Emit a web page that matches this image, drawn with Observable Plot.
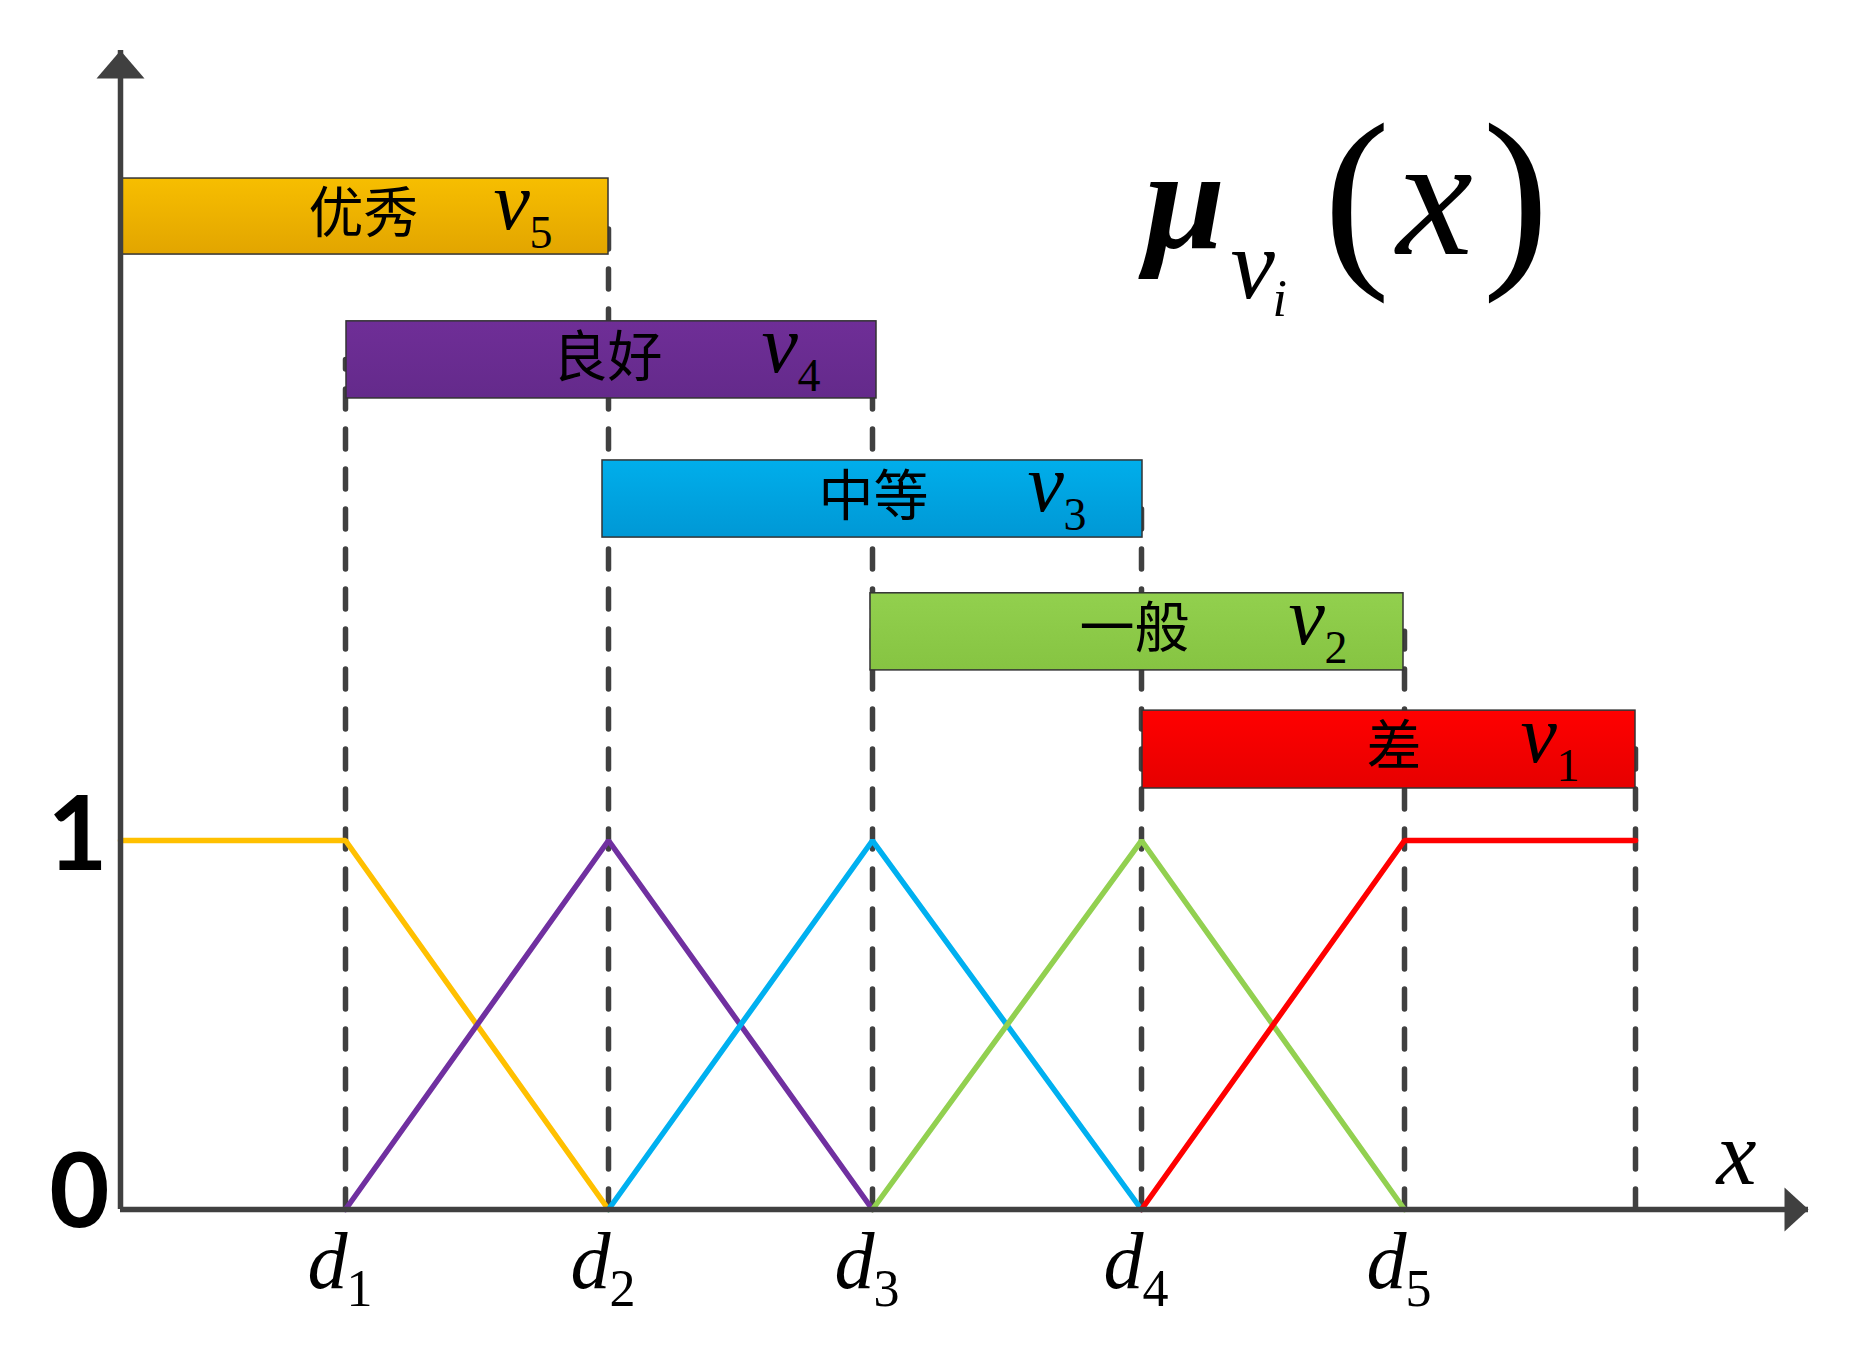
<!DOCTYPE html>
<html><head><meta charset="utf-8">
<script src="https://cdn.jsdelivr.net/npm/d3@7"></script>
<script src="https://cdn.jsdelivr.net/npm/@observablehq/plot@0.6"></script>
<style>html,body{margin:0;padding:0;background:#fff;} #chart svg{display:block;}</style>
</head><body><div id="chart"></div>
<script>
// ---- data ----
const grades = ["优秀", "良好", "中等", "一般", "差"];
const gradeSubs = ["5", "4", "3", "2", "1"];
const barStart = [0, 2.26, 4.82, 7.50, 10.22];
const barEnd = [4.88, 7.56, 10.22, 12.83, 15.15];
const barTop = [2.794, 2.407, 2.030, 1.670, 1.352];
const barBottom = [2.588, 2.198, 1.821, 1.461, 1.141];

const dSubs = ["1", "2", "3", "4", "5"];
const dPos = [2.25, 4.88, 7.52, 10.21, 12.84];
const xLast = 15.15;
const xMax = 16.88;
const yMax = 3.141;
const yTicks = [0, 1];

const v5x = [0, 2.25, 4.88], v5y = [1, 1, 0];
const v4x = [2.25, 4.88, 7.52], v4y = [0, 1, 0];
const v3x = [4.88, 7.52, 10.21], v3y = [0, 1, 0];
const v2x = [7.52, 10.21, 12.84], v2y = [0, 1, 0];
const v1x = [10.21, 12.84, 15.15], v1y = [0, 1, 1];

const dashX = [2.25, 4.88, 7.52, 10.21, 12.84, 15.15];
const dashBar = [1, 0, 1, 2, 3, 4];

// ---- styles ----
const lineColors = ["#FFC000", "#7030A0", "#00B0F0", "#92D050", "#FF0000"];
const gradTop = ["#F7BE00", "#6F2E97", "#00AEEB", "#92D04E", "#FF0000"];
const gradBottom = ["#E2A500", "#642A8B", "#0098D5", "#86C442", "#E60000"];
const axisColor = "#404040";

// ---- tables ----
const bars = grades.map((g, i) => ({
  i, g, sub: gradeSubs[i], x1: barStart[i], x2: barEnd[i], y1: barBottom[i], y2: barTop[i],
  mid: (barTop[i] + barBottom[i]) / 2, grad: `url(#barGrad${i})`
}));
const series = [[v5x, v5y], [v4x, v4y], [v3x, v3y], [v2x, v2y], [v1x, v1y]];
const mf = series.flatMap(([xs, ys], k) => xs.map((x, j) => ({x, y: ys[j], k, color: lineColors[k]})));
const dashes = dashX.map((x, i) => ({x, top: bars[dashBar[i]].mid}));
const dTicks = dPos.map((x, i) => ({x, sub: dSubs[i]}));

const arrowUp = {draw(ctx) { ctx.moveTo(0, 0); ctx.lineTo(24, 28); ctx.lineTo(-24, 28); ctx.closePath(); }};
const arrowRight = {draw(ctx) { ctx.moveTo(0, 0); ctx.lineTo(-24, 22); ctx.lineTo(-24, -22); ctx.closePath(); }};

const serif = "'Liberation Serif', 'Times New Roman', serif";
const cjk = "'Noto Sans CJK SC', sans-serif";

const chart = Plot.plot({
  width: 1863, height: 1351,
  marginLeft: 120, marginRight: 55, marginTop: 50, marginBottom: 142,
  x: {domain: [0, xMax], axis: null},
  y: {domain: [0, yMax], axis: null},
  style: {background: "white", overflow: "visible"},
  marks: [
    // dashed guides
    Plot.ruleX(dashes, {x: "x", y1: 0, y2: "top", stroke: axisColor, strokeWidth: 5.5,
      strokeDasharray: "20,20", strokeLinecap: "round"}),
    // membership functions
    Plot.line(mf, {x: "x", y: "y", z: "k", stroke: "color", strokeWidth: 5.5, strokeLinejoin: "miter"}),
    // grade bars
    Plot.rect(bars, {x1: "x1", x2: "x2", y1: "y1", y2: "y2", fill: "grad", stroke: "#333", strokeWidth: 1.5}),
    Plot.text(bars.filter(b => b.i === 0), {x: "x2", y: "mid", text: "g", textAnchor: "end", dx: -190, dy: -2,
      fontSize: 55, fontFamily: cjk, fill: "#000"}),
    Plot.text(bars.filter(b => b.i > 0), {x: "x2", y: "mid", text: "g", textAnchor: "end", dx: -214, dy: -2,
      fontSize: 55, fontFamily: cjk, fill: "#000"}),
    Plot.text(bars, {x: "x2", y: "mid", text: () => "v", textAnchor: "start", lineAnchor: "bottom",
      dx: -115, dy: 12, fontSize: 82, fontStyle: "italic", fontFamily: serif, fill: "#000"}),
    Plot.text(bars, {x: "x2", y: "mid", text: "sub", textAnchor: "start", lineAnchor: "bottom",
      dx: -79, dy: 31, fontSize: 46, fontFamily: serif, fill: "#000"}),
    // axes
    Plot.ruleY([0], {x1: 0, x2: xMax, stroke: axisColor, strokeWidth: 5.5}),
    Plot.ruleX([0], {y1: 0, y2: yMax, stroke: axisColor, strokeWidth: 5.5}),
    Plot.dot([0], {x: 0, y: yMax, symbol: arrowUp, fill: axisColor, stroke: "none", r: 10}),
    Plot.dot([0], {x: xMax, y: 0, symbol: arrowRight, fill: axisColor, stroke: "none", r: 10}),
    // y tick labels
    Plot.text(yTicks.filter(d => d === 1), {x: 0, y: d => d, text: d => String(d), textAnchor: "end",
      dx: -13, dy: -4, fontSize: 104, fontWeight: "bold", fontFamily: "Lato, sans-serif", fill: "#000"}),
    Plot.text(yTicks.filter(d => d === 0), {x: 0, y: d => d, text: d => String(d), textAnchor: "end",
      dx: -11, dy: -16, fontSize: 104, fontWeight: "bold", fontFamily: "Lato, sans-serif", fill: "#000"}),
    // x tick labels d_i
    Plot.text(dTicks, {x: "x", y: 0, text: () => "d", textAnchor: "end", lineAnchor: "bottom",
      dx: 2, dy: 78, fontSize: 80, fontStyle: "italic", fontFamily: serif, fill: "#000"}),
    Plot.text(dTicks, {x: "x", y: 0, text: "sub", textAnchor: "start", lineAnchor: "bottom",
      dx: 1, dy: 96, fontSize: 52, fontFamily: serif, fill: "#000"}),
    // axis name x
    Plot.text(["x"], {frameAnchor: "bottom-right", text: d => d, textAnchor: "end", lineAnchor: "bottom",
      dx: -52, dy: -26, fontSize: 90, fontStyle: "italic", fontFamily: serif, fill: "#000"}),
    // formula μ_{v_i}(x)
    Plot.text(["μ"], {frameAnchor: "top-left", text: d => d, textAnchor: "start", lineAnchor: "bottom",
      dx: 1024, dy: 197, fontSize: 145, fontStyle: "italic", fontWeight: "bold", fontFamily: serif, fill: "#000"}),
    Plot.text(["v"], {frameAnchor: "top-left", text: d => d, textAnchor: "start", lineAnchor: "bottom",
      dx: 1110, dy: 247, fontSize: 100, fontStyle: "italic", fontFamily: serif, fill: "#000"}),
    Plot.text(["i"], {frameAnchor: "top-left", text: d => d, textAnchor: "start", lineAnchor: "bottom",
      dx: 1152, dy: 265, fontSize: 52, fontStyle: "italic", fontFamily: serif, fill: "#000"}),
    Plot.text(["("], {frameAnchor: "top-left", text: d => d, textAnchor: "start", lineAnchor: "bottom",
      dx: 1203, dy: 210, fontSize: 200, fontFamily: serif, fill: "#000"}),
    Plot.text(["x"], {frameAnchor: "top-left", text: d => d, textAnchor: "start", lineAnchor: "bottom",
      dx: 1276, dy: 203, fontSize: 172, fontStyle: "italic", fontFamily: serif, fill: "#000"}),
    Plot.text([")"], {frameAnchor: "top-left", text: d => d, textAnchor: "start", lineAnchor: "bottom",
      dx: 1362, dy: 210, fontSize: 200, fontFamily: serif, fill: "#000"})
  ]
});

// gradients for bars
const defs = d3.select(chart).insert("defs", ":first-child");
bars.forEach((b, i) => {
  const lg = defs.append("linearGradient").attr("id", `barGrad${i}`)
    .attr("x1", 0).attr("y1", 0).attr("x2", 0).attr("y2", 1);
  lg.append("stop").attr("offset", "0%").attr("stop-color", gradTop[i]);
  lg.append("stop").attr("offset", "100%").attr("stop-color", gradBottom[i]);
});

document.getElementById("chart").appendChild(chart);
</script>
</body></html>
